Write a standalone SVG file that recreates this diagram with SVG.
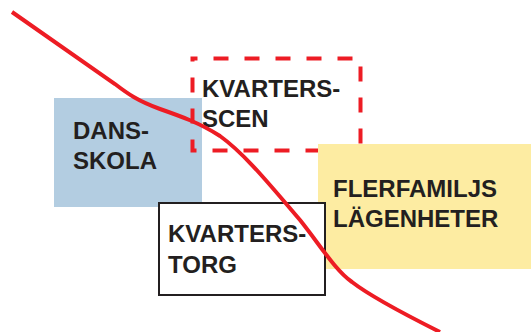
<svg xmlns="http://www.w3.org/2000/svg" width="531" height="332" viewBox="0 0 531 332">
<style>
.lbl{font-family:"Liberation Sans",Arial,Helvetica,sans-serif;font-weight:bold;font-size:24px;fill:#231f20}
</style>
<rect width="531" height="332" fill="#ffffff"/>
<g id="dansskola">
<rect x="54" y="98" width="148" height="109" fill="#b3cde1"/>
<text class="lbl" x="73" y="139">DANS-</text>
<text class="lbl" x="73" y="169">SKOLA</text>
</g>
<g id="kvartersscen">
<rect x="192.5" y="58.5" width="168" height="92" fill="none" stroke="#ed1c24" stroke-width="4" stroke-dasharray="15 16" stroke-dashoffset="10"/>
<text class="lbl" x="202" y="97">KVARTERS-</text>
<text class="lbl" x="202" y="127">SCEN</text>
</g>
<g id="flerfamiljs">
<rect x="318" y="144" width="213" height="125" fill="#fdeca2"/>
<text class="lbl" x="333" y="197">FLERFAMILJS</text>
<text class="lbl" x="333" y="227">LÄGENHETER</text>
</g>
<g id="kvarterstorg">
<rect x="159" y="203" width="166" height="92" fill="#ffffff" stroke="#231f20" stroke-width="2"/>
<text class="lbl" x="168" y="242">KVARTERS-</text>
<text class="lbl" x="168" y="273">TORG</text>
</g>
<g id="connectors">
<path d="M12,12 L115,84 C128,94 138,101 160,109 C180,116 200,123 220,136 C245,154 270,185 300,220 C320,245 335,270 352,282 C370,296 400,312 440,332" fill="none" stroke="#ed1c24" stroke-width="4"/>
</g>
</svg>
